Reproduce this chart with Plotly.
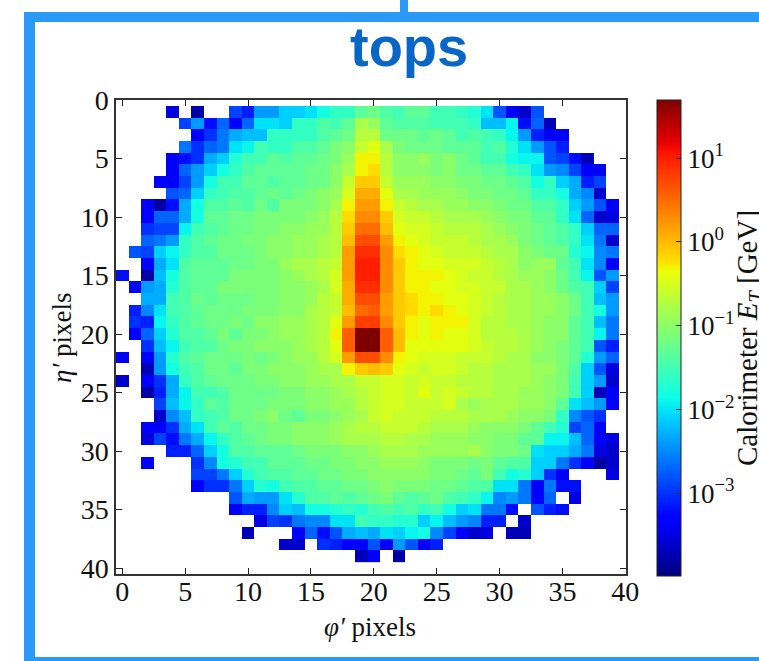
import plotly.graph_objects as go

_ = None
# Calorimeter E_T, in tenths of log10(GeV); row = eta' pixel, column = phi' pixel
row_00 = []
row_01 = [_,_,_,_,-35,_,-38,_,_,-29,-31,-24,-24,-21,-21,-20,-18,-16,-16,-13,-12,-14,-15,-13,-13,-15,-15,-16,-17,-20,-28,-33,-36,-28]
row_02 = [_,_,_,_,_,-29,-24,-32,-27,-33,-27,-20,-20,-21,-16,-16,-14,-15,-13,-8,-9,-13,-14,-14,-14,-15,-15,-15,-16,-22,-22,-19,-32,-27,-37]
row_03 = [_,_,_,_,_,_,-33,-30,-26,-23,-22,-22,-16,-16,-16,-16,-14,-13,-12,-7,-7,-12,-12,-12,-13,-12,-13,-15,-14,-15,-16,-19,-24,-31,-34,-33]
row_04 = [_,_,_,_,_,-26,-30,-27,-26,-20,-19,-15,-16,-16,-14,-14,-13,-11,-10,-6,-4,-8,-11,-12,-12,-12,-13,-13,-13,-15,-14,-17,-20,-24,-28,-31]
row_05 = [_,_,_,_,-34,-32,-30,-23,-21,-17,-15,-15,-13,-14,-13,-13,-12,-11,-9,-3,-3,-7,-10,-10,-9,-11,-10,-12,-13,-15,-15,-18,-19,-19,-28,-29,-32,-37]
row_06 = [_,_,_,_,-34,-27,-24,-21,-18,-16,-14,-13,-13,-13,-13,-12,-12,-10,-8,-3,-2,-7,-10,-10,-10,-11,-10,-12,-12,-13,-13,-15,-16,-20,-24,-25,-29,-33,-33]
row_07 = [_,_,_,-33,-33,-29,-24,-18,-15,-15,-13,-13,-14,-13,-13,-12,-12,-10,-6,-1,-1,-6,-9,-9,-9,-10,-10,-11,-11,-12,-12,-13,-14,-18,-16,-21,-23,-31,-29]
row_08 = [_,_,_,_,-28,-27,-21,-16,-15,-14,-14,-13,-12,-13,-12,-11,-10,-9,-5,1,1,-4,-8,-8,-9,-9,-9,-10,-11,-11,-12,-12,-13,-16,-16,-18,-23,-25,-36]
row_09 = [_,_,-34,-38,-32,-23,-18,-14,-14,-13,-14,-12,-14,-11,-11,-11,-10,-8,-3,2,2,-3,-6,-7,-8,-8,-9,-9,-10,-10,-11,-12,-12,-14,-14,-16,-21,-24,-28,-33]
row_10 = [_,_,-33,-27,-27,-23,-18,-13,-13,-12,-12,-11,-11,-11,-11,-10,-9,-7,-2,3,3,-1,-5,-6,-6,-7,-8,-8,-8,-9,-10,-11,-11,-13,-13,-16,-20,-27,-36,-35]
row_11 = [_,_,-30,-29,-29,-19,-15,-14,-13,-12,-12,-11,-11,-10,-10,-9,-9,-7,-1,5,5,0,-4,-5,-5,-6,-7,-7,-7,-8,-9,-10,-11,-12,-13,-14,-16,-21,-27,-27]
row_12 = [_,_,-27,-26,-24,-16,-14,-13,-12,-12,-11,-11,-10,-10,-9,-9,-8,-7,0,7,7,2,-3,-4,-5,-6,-6,-6,-7,-8,-8,-9,-11,-12,-13,-14,-16,-20,-26,-36]
row_13 = [_,-28,-29,-21,-19,-16,-14,-14,-12,-12,-12,-11,-10,-10,-9,-9,-8,-7,2,9,9,3,-2,-3,-4,-5,-6,-6,-6,-7,-8,-8,-10,-11,-12,-12,-17,-19,-25,-26]
row_14 = [_,_,-33,-23,-20,-14,-13,-13,-13,-12,-12,-11,-11,-9,-8,-8,-7,-6,2,10,10,3,-1,-3,-4,-4,-5,-5,-5,-6,-7,-8,-10,-9,-9,-13,-15,-20,-25,-33]
row_15 = [-32,_,-38,-22,-18,-14,-13,-13,-13,-11,-11,-11,-11,-10,-9,-8,-7,-5,2,10,10,3,-1,-3,-3,-3,-4,-5,-6,-6,-7,-8,-9,-9,-10,-12,-15,-19,-28,-24]
row_16 = [_,-33,-24,-23,-17,-14,-13,-13,-11,-11,-11,-11,-11,-10,-10,-9,-8,-5,1,9,9,3,-1,-3,-3,-4,-4,-5,-5,-6,-6,-8,-8,-9,-10,-12,-14,-15,-21,-29]
row_17 = [_,_,-23,-23,-15,-14,-12,-13,-12,-12,-12,-11,-11,-10,-10,-9,-7,-6,1,7,7,2,-1,-2,-3,-3,-4,-4,-5,-6,-7,-8,-8,-9,-9,-10,-12,-15,-22,-24]
row_18 = [_,-31,-25,-20,-15,-14,-13,-12,-12,-12,-11,-11,-11,-10,-10,-8,-7,-6,0,5,6,2,-1,-2,-3,-2,-3,-4,-5,-6,-7,-8,-8,-9,-9,-10,-12,-15,-18,-24]
row_19 = [_,-30,-31,-19,-16,-14,-13,-12,-12,-11,-12,-10,-10,-9,-9,-8,-7,-4,2,8,8,3,-1,-3,-4,-3,-3,-3,-5,-7,-7,-8,-8,-9,-10,-10,-13,-15,-22,-26]
row_20 = [_,-33,-27,-21,-17,-14,-14,-13,-11,-13,-11,-11,-10,-9,-9,-8,-7,-3,6,17,17,6,0,-3,-4,-3,-4,-4,-5,-7,-7,-7,-8,-9,-10,-10,-13,-15,-19,-26]
row_21 = [_,_,-30,-22,-19,-15,-14,-14,-12,-11,-11,-10,-10,-10,-9,-8,-7,-4,6,17,17,6,0,-4,-4,-4,-4,-4,-5,-6,-7,-7,-8,-9,-10,-11,-13,-15,-28,-31]
row_22 = [-33,_,-33,-24,-17,-14,-13,-12,-12,-12,-11,-12,-11,-10,-9,-9,-7,-5,2,7,7,3,-3,-4,-5,-5,-5,-6,-6,-6,-7,-8,-8,-10,-10,-11,-13,-17,-24,-27]
row_23 = [_,_,-37,-24,-18,-15,-14,-12,-12,-13,-11,-11,-10,-10,-10,-9,-8,-8,-3,-1,0,-1,-4,-5,-6,-5,-5,-6,-7,-7,-8,-8,-8,-9,-9,-11,-14,-21,-28,-35]
row_24 = [-36,_,-33,-30,-23,-16,-14,-13,-12,-12,-12,-11,-11,-10,-10,-9,-9,-8,-8,-6,-6,-5,-5,-6,-5,-6,-6,-7,-7,-7,-8,-8,-8,-9,-10,-11,-15,-21,-24,-36]
row_25 = [_,_,-38,-31,-23,-19,-15,-15,-14,-12,-12,-12,-12,-11,-11,-10,-10,-9,-8,-7,-6,-5,-5,-6,-4,-6,-5,-6,-7,-7,-8,-8,-9,-9,-10,-11,-15,-21,-37,-33]
row_26 = [_,_,_,-29,-22,-19,-16,-13,-14,-12,-12,-12,-11,-11,-11,-10,-10,-9,-9,-7,-6,-5,-5,-6,-6,-6,-5,-8,-9,-8,-8,-8,-9,-9,-10,-13,-20,-22,-24,-33]
row_27 = [_,_,_,-36,-25,-22,-16,-15,-14,-12,-12,-11,-10,-12,-13,-11,-11,-10,-9,-8,-6,-5,-6,-6,-6,-7,-7,-7,-8,-8,-8,-9,-10,-10,-11,-16,-25,-28,-30]
row_28 = [_,_,-33,-33,-30,-23,-20,-15,-13,-14,-12,-12,-11,-11,-10,-10,-10,-9,-8,-7,-7,-6,-6,-6,-7,-8,-8,-8,-9,-10,-10,-10,-11,-13,-15,-17,-29,-27,-33]
row_29 = [_,_,-35,-29,-32,-26,-23,-19,-16,-14,-13,-12,-11,-11,-10,-10,-10,-9,-8,-8,-8,-7,-7,-8,-8,-9,-9,-9,-10,-10,-11,-11,-13,-13,-19,-19,-22,-27,-33,-35]
row_30 = [_,_,_,_,-31,-31,-27,-21,-18,-14,-14,-13,-13,-13,-12,-11,-11,-11,-10,-10,-9,-8,-8,-8,-9,-9,-9,-9,-8,-10,-11,-11,-12,-20,-21,-21,-23,-26,-35,-36]
row_31 = [_,_,-33,_,_,_,-30,-25,-18,-17,-15,-15,-13,-13,-13,-12,-12,-11,-11,-10,-10,-9,-9,-9,-10,-11,-11,-11,-12,-11,-13,-14,-14,-21,-21,-26,-30,-34,-38,-36]
row_32 = [_,_,_,_,_,_,-29,-29,-26,-21,-17,-15,-14,-14,-13,-13,-12,-12,-11,-11,-10,-10,-10,-10,-10,-11,-11,-12,-13,-11,-15,-18,-17,-21,-30,-33,_,_,_,-35]
row_33 = [_,_,_,_,_,_,-33,-30,-30,-26,-21,-17,-18,-15,-14,-14,-13,-13,-12,-12,-11,-10,-11,-11,-11,-12,-12,-13,-14,-14,-20,-20,-26,-33,-26,-32,-32]
row_34 = [_,_,_,_,_,_,_,_,_,-28,-23,-24,-24,-20,-17,-14,-14,-13,-14,-13,-12,-11,-13,-14,-13,-12,-14,-15,-16,-19,-25,-24,-26,-33,-27,_,-35]
row_35 = [_,_,_,_,_,_,_,_,_,-34,-31,-31,-25,-21,-22,-18,-18,-17,-16,-17,-15,-14,-15,-14,-16,-15,-18,-21,-20,-26,-26,-32,_,-28,-31,-32]
row_36 = [_,_,_,_,_,_,_,_,_,_,_,-35,-29,-30,-26,-25,-25,-20,-20,-15,-16,-16,-17,-17,-21,-19,-22,-24,-25,-31,-31,_,-36]
row_37 = [_,_,_,_,_,_,_,_,_,_,-37,_,_,_,-33,-27,-32,-28,-23,-22,-23,-20,-21,-19,-18,-25,-29,-33,-36,-35,_,-37,-37]
row_38 = [_,_,_,_,_,_,_,_,_,_,_,_,_,-36,-36,_,-30,-31,-33,-33,-28,-33,-24,-28,-33,-31]
row_39 = [_,_,_,_,_,_,_,_,_,_,_,_,_,_,_,_,_,_,_,-37,-33,_,-38]

rows = [row_00,row_01,row_02,row_03,row_04,row_05,row_06,row_07,row_08,row_09,
        row_10,row_11,row_12,row_13,row_14,row_15,row_16,row_17,row_18,row_19,
        row_20,row_21,row_22,row_23,row_24,row_25,row_26,row_27,row_28,row_29,
        row_30,row_31,row_32,row_33,row_34,row_35,row_36,row_37,row_38,row_39]

colorbar_exponents = [-3, -2, -1, 0, 1]
colorbar_labels = ["10<sup>\u22123</sup>", "10<sup>\u22122</sup>", "10<sup>\u22121</sup>", "10<sup>0</sup>", "10<sup>1</sup>"]
axis_ticks = [0, 5, 10, 15, 20, 25, 30, 35, 40]

W, H = 759, 661
z = []
for r in rows:
    assert len(r) <= 40
    z.append([None if v is None else v / 10 for v in r] + [None] * (40 - len(r)))

# matplotlib "jet"
jet = [(0, (0, 0, 127)), (.11, (0, 0, 255)), (.125, (0, 0, 255)), (.34, (0, 217, 255)), (.35, (0, 229, 246)),
       (.375, (13, 255, 232)), (.64, (235, 255, 8)), (.65, (245, 240, 0)), (.66, (255, 224, 0)),
       (.89, (255, 18, 0)), (.91, (232, 0, 0)), (1, (127, 0, 0))]
colorscale = [[p, f"rgb{c}"] for p, c in jet]

SERIF = "Liberation Serif"
fig = go.Figure(go.Heatmap(
    z=z, x=list(range(40)), y=list(range(40)), zmin=-3.98, zmax=1.70,
    colorscale=colorscale, hoverongaps=False,
    colorbar=dict(
        x=657 / W, xanchor="left", xpad=0, y=1 - 99.5 / H, yanchor="top", ypad=0,
        lenmode="pixels", len=476, thicknessmode="pixels", thickness=24,
        outlinewidth=1, outlinecolor="#222",
        tickmode="array", tickvals=colorbar_exponents, ticktext=colorbar_labels,
        ticks="inside", ticklen=5, tickcolor="#222",
        tickfont=dict(family=SERIF, size=27, color="#111"),
    ),
))

axis = dict(ticks="inside", ticklen=6, tickcolor="#222", tickwidth=1, showline=True, mirror="ticks",
            linecolor="#333", linewidth=1.5, showgrid=False, zeroline=False, automargin=False,
            tickmode="array", tickvals=axis_ticks, tickangle=0,
            tickfont=dict(family=SERIF, size=28, color="#111"))
fig.update_layout(
    width=W, height=H, margin=dict(l=0, r=0, t=0, b=0, autoexpand=False), paper_bgcolor="white", plot_bgcolor="white",
    xaxis=dict(axis, domain=[116 / W, 626 / W], range=[-0.5, 40.05], ticklabelstandoff=-8),
    yaxis=dict(axis, domain=[1 - 574 / H, 1 - 100 / H], range=[40.5, 0]),
    annotations=[
        dict(text="tops", x=409 / W, y=1 - 46 / H, xref="paper", yref="paper", showarrow=False,
             xanchor="center", yanchor="middle",
             font=dict(family="Liberation Sans", size=56, color="#0866c6", weight="bold")),
        dict(text="Calorimeter <i>E<sub>T</sub></i> [GeV]", x=749 / W, y=1 - 338 / H, xref="paper", yref="paper",
             showarrow=False, textangle=-90, xanchor="center", yanchor="middle",
             font=dict(family=SERIF, size=29, color="#111")),
        dict(text="<i>\u03c6\u2032</i> pixels", x=370 / W, y=1 - 627 / H, xref="paper", yref="paper", showarrow=False,
             xanchor="center", yanchor="middle", font=dict(family=SERIF, size=27, color="#111")),
        dict(text="<i>\u03b7\u2032</i> pixels", x=62 / W, y=1 - 338 / H, xref="paper", yref="paper", showarrow=False,
             textangle=-90, xanchor="center", yanchor="middle", font=dict(family=SERIF, size=27, color="#111")),
    ],
    shapes=[
        dict(type="rect", xref="paper", yref="paper", layer="below", line_width=0, fillcolor="#2a99f7",
             x0=x0 / W, x1=x1 / W, y0=1 - y1 / H, y1=1 - y0 / H)
        for x0, x1, y0, y1 in [(24, 35, 12, 661), (24, 759, 12, 22), (24, 759, 657, 661), (400, 408, 0, 12)]
    ],
)
fig.write_html("out.html", config={"displayModeBar": False},
               post_script="document.body.style.margin='0';document.body.style.overflow='hidden';")
